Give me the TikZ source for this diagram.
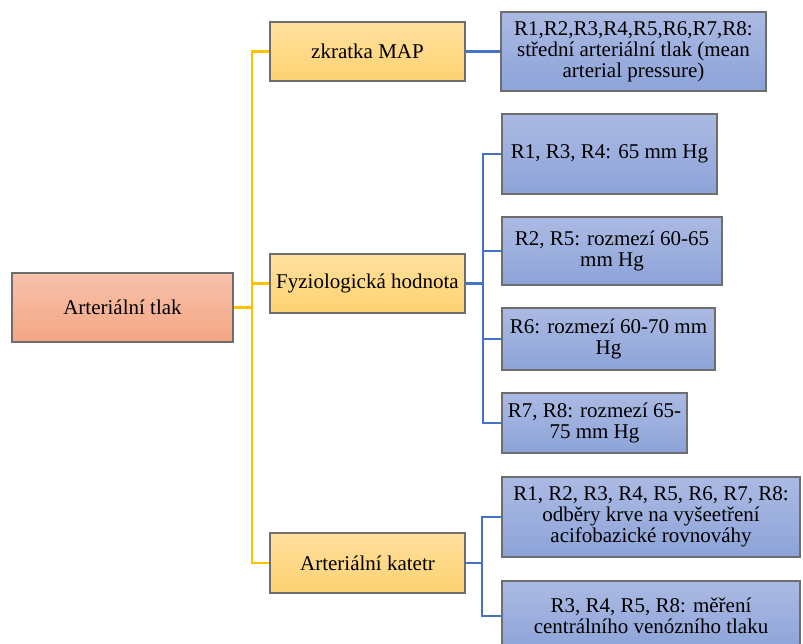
\documentclass[tikz,border=0pt]{standalone}
\usepackage{fontspec}
\setmainfont{Liberation Serif}
\newfontfamily\tnr{Liberation Serif}
\definecolor{salmonTop}{HTML}{F7C2AB}
\definecolor{salmonBot}{HTML}{F4A584}
\definecolor{goldTop}{HTML}{FFE09D}
\definecolor{goldBot}{HTML}{FED272}
\definecolor{blueTop}{HTML}{ABBAE3}
\definecolor{blueBot}{HTML}{8DA3D8}
\definecolor{frame}{HTML}{6E6E6E}
\definecolor{goldLine}{HTML}{FFC000}
\definecolor{blueLine}{HTML}{4472C4}
\tikzset{
  box/.style={draw=frame, line width=1.2pt, rectangle, inner sep=0pt, align=center,
    font=\tnr\fontsize{21}{20.8}\selectfont},
  rootbox/.style={box, top color=salmonTop, bottom color=salmonBot},
  midbox/.style={box, top color=goldTop, bottom color=goldBot},
  leafbox/.style={box, top color=blueTop, bottom color=blueBot},
  yline/.style={draw=goldLine, line width=2.7pt},
  bline/.style={draw=blueLine, line width=2.7pt},
}
\begin{document}
\begin{tikzpicture}[x=1pt, y=-1pt]
\clip (0,0) rectangle (803,643);
\fill[white] (0,0) rectangle (803,643);

% root
\node[rootbox, minimum width=221pt, minimum height=69pt] (root) at (122.5,307.5) {Arteriální tlak};

% second level
\node[midbox, minimum width=195pt, minimum height=59pt] (map) at (367.5,51.5) {zkratka MAP};
\node[midbox, minimum width=195pt, minimum height=59pt] (fyz) at (367.5,283.5) {Fyziologická hodnota};
\node[midbox, minimum width=195pt, minimum height=60pt] (kat) at (367.5,563) {Arteriální katetr};

% leaves
\node[leafbox, minimum width=265pt, minimum height=79pt] (m1) at (633.5,51.5)
  {R1,R2,R3,R4,R5,R6,R7,R8:\\střední arteriální tlak (mean\\arterial pressure)};
\node[leafbox, minimum width=215pt, minimum height=80pt] (f1) at (609.5,154) {R1, R3, R4: 65 mm Hg};
\node[leafbox, minimum width=220pt, minimum height=68pt] (f2) at (612,251) {R2, R5: rozmezí 60-65\\mm Hg};
\node[leafbox, minimum width=213pt, minimum height=62pt] (f3) at (608.5,339) {R6: rozmezí 60-70 mm\\Hg};
\node[leafbox, minimum width=185pt, minimum height=60pt] (f4) at (594.5,423) {R7, R8: rozmezí 65-\\75 mm Hg};
\node[leafbox, minimum width=298pt, minimum height=80pt] (k1) at (651,517)
  {R1, R2, R3, R4, R5, R6, R7, R8:\\odběry krve na vyšeetření\\acifobazické rovnováhy};
\node[leafbox, minimum width=298pt, minimum height=70pt] (k2) at (651,616)
  {R3, R4, R5, R8: měření\\centrálního venózního tlaku};

% bus lines
\coordinate (ys) at (252,0);
\coordinate (bf) at (483,0);
\coordinate (bk) at (482,0);

% gold tree
\draw[yline] (root.east) -- (root.east -| ys);
\draw[yline] (map.west) -| (ys |- kat.west) -- (kat.west);
\draw[yline] (fyz.west) -- (fyz.west -| ys);

% blue branches
\draw[bline] (map.east) -- (m1.west);
\draw[bline] (fyz.east) -- (fyz.east -| bf);
\draw[bline] (f1.west) -| (bf |- f4.west) -- (f4.west);
\draw[bline] (f2.west) -- (f2.west -| bf);
\draw[bline] (f3.west) -- (f3.west -| bf);
\draw[bline] (kat.east) -- (kat.east -| bk);
\draw[bline] (k1.west) -| (bk |- k2.west) -- (k2.west);
\end{tikzpicture}
\end{document}
